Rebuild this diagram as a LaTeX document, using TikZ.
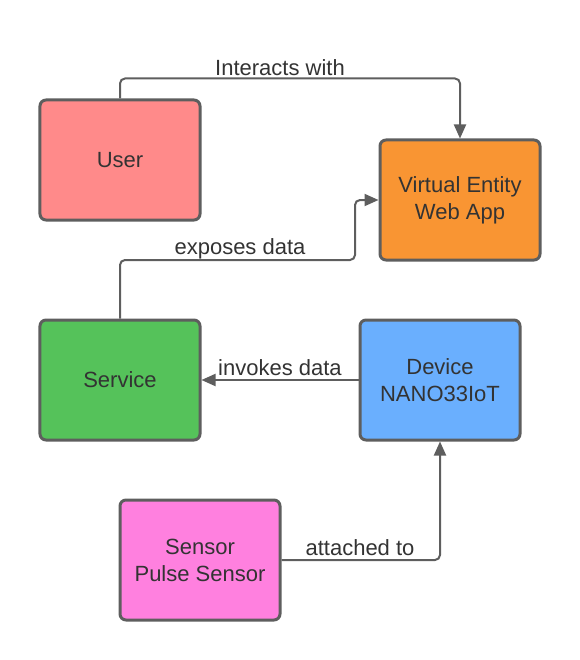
\documentclass[tikz,border=0pt]{standalone}
\usepackage{fontspec}
\setmainfont{Liberation Sans}
\usetikzlibrary{arrows.meta}
\definecolor{edgegray}{HTML}{5E5E5E}
\definecolor{txt}{HTML}{333333}
\definecolor{cuser}{HTML}{FF8A8A}
\definecolor{cve}{HTML}{F99533}
\definecolor{csvc}{HTML}{55C25A}
\definecolor{cdev}{HTML}{6AAFFE}
\definecolor{csen}{HTML}{FF80DF}
\tikzset{
  box/.style={draw=edgegray, line width=3bp, rounded corners=6bp, minimum width=160bp, minimum height=120bp, align=center, text=txt, font=\fontsize{22bp}{27bp}\selectfont, inner sep=0pt},
  conn/.style={draw=edgegray, line width=2bp, rounded corners=5bp, -{Triangle[length=14bp,width=12bp]}},
  lbl/.style={text=txt, font=\fontsize{22bp}{27bp}\selectfont, anchor=base, inner sep=0pt}
}
\begin{document}
\begin{tikzpicture}[x=1bp,y=-1bp]
\useasboundingbox (0,0) rectangle (580,660);
\node[box, fill=cuser] (user) at (120,160) {User};
\node[box, fill=cve] (ve) at (460,200) {Virtual Entity\\Web App};
\node[box, fill=csvc] (svc) at (120,380) {Service};
\node[box, fill=cdev] (dev) at (440,380) {Device\\NANO33IoT};
\node[box, fill=csen] (sen) at (200,560) {Sensor\\Pulse Sensor};
\coordinate (c1) at (355,260);
\draw[conn] (user.north) -- ++(0,-20) -| (ve.north);
\draw[conn] (svc.north) |- (c1) |- (ve.west);
\draw[conn] (dev.west) -- (svc.east);
\draw[conn] (sen.east) -| (dev.south);
\node[lbl] (l1) at (280,76) {Interacts with};
\node[lbl] (l2) at (240,254) {exposes data};
\node[lbl] (l3) at (280,375) {invokes data};
\node[lbl] (l4) at (360,555) {attached to};
\end{tikzpicture}
\end{document}
